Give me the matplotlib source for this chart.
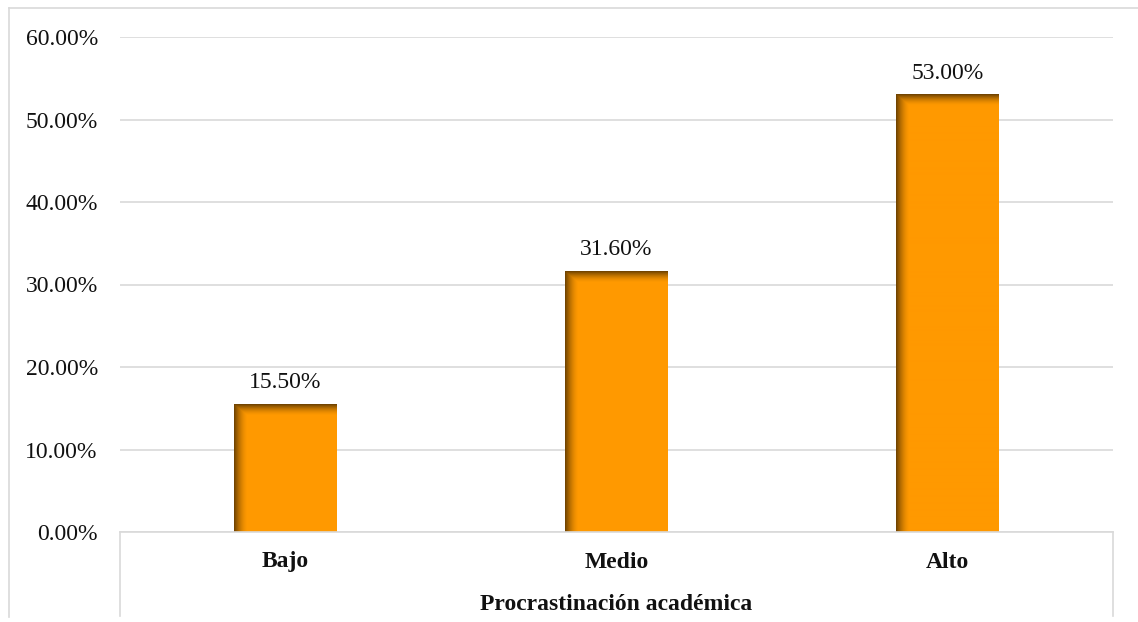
import numpy as np
import matplotlib
matplotlib.use("Agg")
import matplotlib.pyplot as plt
from matplotlib.lines import Line2D
from matplotlib.ticker import FuncFormatter

categories = ["Bajo", "Medio", "Alto"]
values = [15.50, 31.60, 53.00]
axis_title = "Procrastinación académica"
y_ticks = [0, 10, 20, 30, 40, 50, 60]

plt.rcParams["font.family"] = ["Liberation Serif", "DejaVu Serif"]

W, H, DPI = 1138, 622, 100
FS = 17
fig = plt.figure(figsize=(W / DPI, H / DPI), dpi=DPI)
fig.patch.set_facecolor("white")

left, right = 120 / W, 1113 / W
bottom, top = 1 - 532 / H, 1 - 37 / H
ax = fig.add_axes([left, bottom, right - left, top - bottom])

x = np.arange(len(categories))
bar_w = 0.31
orange = np.array([1.0, 0.60, 0.0])
shade = np.array([0.45, 0.27, 0.0])

bars = ax.bar(x, values, width=bar_w, color=orange, zorder=2)

ax.set_xlim(-0.5, len(categories) - 0.5)
ax.set_ylim(0, 60)

# inner shadow along the left and top edges of each bar
px_per_x = (1113 - 120) / len(categories)
px_per_y = (532 - 37) / 60
for b in bars:
    x0, w, h = b.get_x(), b.get_width(), b.get_height()
    nx = int(round(w * px_per_x))
    ny = int(round(h * px_per_y))
    xs = np.arange(nx)[None, :] * np.ones((ny, 1))
    ys = np.arange(ny)[:, None] * np.ones((1, nx))
    fl = np.clip(1 - xs / 13.0, 0, 1) ** 1.6
    ft = np.clip(1 - ys / 11.0, 0, 1) ** 1.6
    f = np.maximum(fl, ft)[..., None]
    img = orange * (1 - f) + shade * f
    ax.imshow(img, extent=(x0, x0 + w, 0, h), aspect="auto",
              origin="upper", zorder=3, interpolation="bilinear")
    ax.annotate(f"{h:.2f}%", (x0 + w / 2, h), xytext=(0, 8),
                textcoords="offset points", ha="center", va="bottom",
                fontsize=FS, color="#111111")

ax.set_aspect("auto")
ax.set_yticks(y_ticks)
ax.yaxis.set_major_formatter(FuncFormatter(lambda v, p: f"{v:.2f}%"))
ax.tick_params(axis="y", length=0, pad=16, labelsize=FS, labelcolor="#111111")
ax.set_xticks([])
ax.grid(axis="y", color="#d9d9d9", linewidth=1.2, zorder=0)
ax.set_axisbelow(True)
for s in ax.spines.values():
    s.set_visible(False)

# category box under the plot area
gray = "#d9d9d9"
y_base = bottom
y_low = 1 - 616 / H
fig.add_artist(Line2D([left, right], [y_base, y_base], color=gray, lw=1.2,
                      transform=fig.transFigure))
fig.add_artist(Line2D([left, left], [y_base, y_low], color=gray, lw=1.2,
                      transform=fig.transFigure))
fig.add_artist(Line2D([right, right], [y_base, y_low], color=gray, lw=1.2,
                      transform=fig.transFigure))

for xi, cat in zip(x, categories):
    xf = left + (xi + 0.5) / len(categories) * (right - left)
    fig.text(xf, 1 - 562 / H, cat, ha="center", va="center",
             fontsize=FS, fontweight="bold", color="#111111")
fig.text((left + right) / 2, 1 - 604 / H, axis_title, ha="center", va="center",
         fontsize=FS, fontweight="bold", color="#111111")

# outer chart frame
fx0 = 9 / W
fy0 = 1 - 8 / H
fig.add_artist(Line2D([fx0, 1.0], [fy0, fy0], color=gray, lw=1.2,
                      transform=fig.transFigure))
fig.add_artist(Line2D([fx0, fx0], [fy0, 1 - 617 / H], color=gray, lw=1.2,
                      transform=fig.transFigure))

fig.savefig("out.png", dpi=DPI, facecolor="white")
